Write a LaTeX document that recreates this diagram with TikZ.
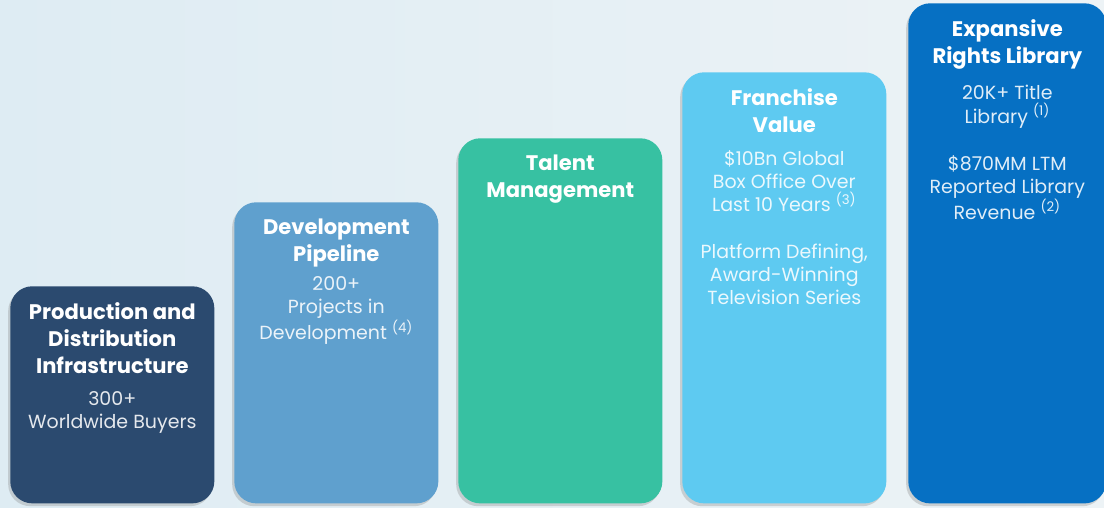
\documentclass[tikz,border=0pt]{standalone}
\usepackage{fontspec}
\setmainfont{Poppins}
\usetikzlibrary{positioning,shadows}

\definecolor{bgleft}{HTML}{DEECF3}
\definecolor{bgright}{HTML}{EDF3F6}
\definecolor{barnavy}{HTML}{2B4A6F}
\definecolor{barsteel}{HTML}{5FA0CE}
\definecolor{barteal}{HTML}{37C1A2}
\definecolor{barsky}{HTML}{5ECAF1}
\definecolor{barblue}{HTML}{0670C3}

\begin{document}
\begin{tikzpicture}[x=0.025cm,y=-0.025cm,
  bar/.style={anchor=north west,inner sep=0pt,rounded corners=0.55cm,minimum width=5.1cm,
    drop shadow={shadow xshift=-1.5pt,shadow yshift=-2pt,opacity=.3}},
  head/.style={text=white,font=\bfseries\fontsize{15}{19.2}\selectfont,align=center,inner sep=0pt},
  info/.style={text=white,text opacity=.88,font=\fontsize{13.5}{16.4}\selectfont,align=center,inner sep=0pt}]

% background
\fill[left color=bgleft,right color=bgright] (0,0) rectangle (1104,507);
\useasboundingbox (0,0) rectangle (1104,507);

% bars, shortest to tallest
\node[bar,fill=barnavy,minimum height=5.425cm] (prod) at (10,286) {};
\node[bar,fill=barsteel,minimum height=7.525cm] (dev) at (234,202) {};
\node[bar,fill=barteal,minimum height=9.125cm] (talent) at (458,138) {};
\node[bar,fill=barsky,minimum height=10.775cm] (fran) at (682,72) {};
\node[bar,fill=barblue,minimum height=12.5cm,minimum width=4.95cm] (lib) at (908,3) {};

% headings
\node[head,below=0.42cm of prod.north] (prodhead) {Production and\\Distribution\\Infrastructure};
\node[head,below=0.42cm of dev.north] (devhead) {Development\\Pipeline};
\node[head,below=0.42cm of talent.north] (talenthead) {Talent\\Management};
\node[head,below=0.42cm of fran.north] (franhead) {Franchise\\Value};
\node[head,below=0.42cm of lib.north] (libhead) {Expansive\\Rights Library};

% figures under the headings
\node[info,below=0.42cm of prodhead] (prodinfo) {300+\\Worldwide Buyers};
\node[info,below=0.22cm of devhead] (devinfo) {200+\\Projects in\\Development \textsuperscript{(4)}};
\node[info,below=0.42cm of franhead] (franinfo) {\$10Bn Global\\Box Office Over\\Last 10 Years \textsuperscript{(3)}\\[17pt]
  Platform Defining,\\Award-Winning\\Television Series};
\node[info,below=0.38cm of libhead] (libinfo) {20K+ Title\\Library \textsuperscript{(1)}\\[17pt]
  \$870MM LTM\\Reported Library\\Revenue \textsuperscript{(2)}};
\end{tikzpicture}
\end{document}
